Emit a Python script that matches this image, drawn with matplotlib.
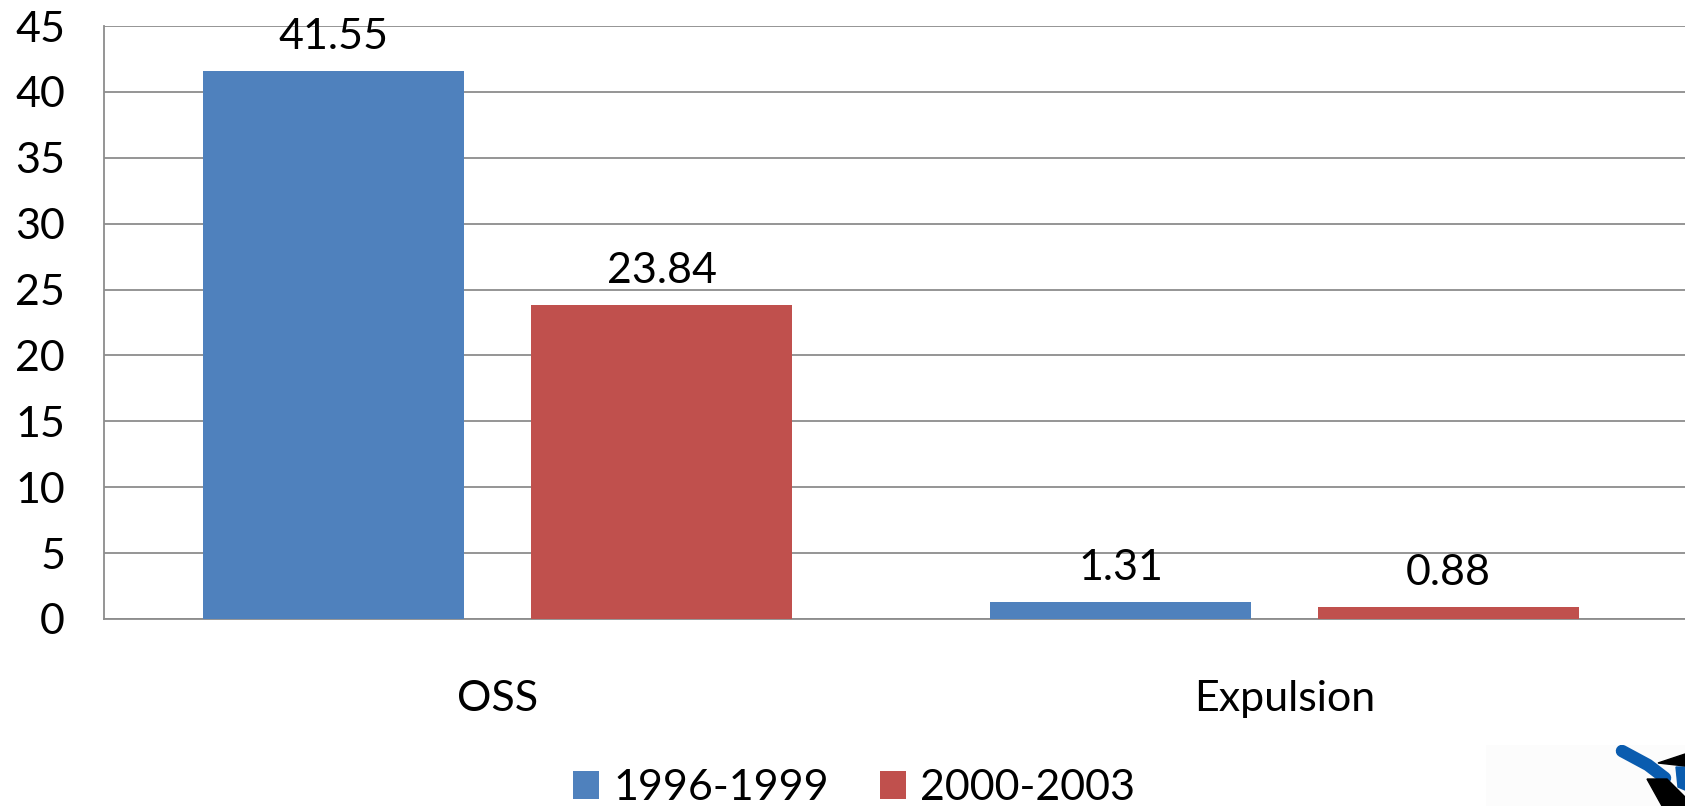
import numpy as np
import matplotlib
matplotlib.use("Agg")
import matplotlib.pyplot as plt
from matplotlib.patches import Polygon, Rectangle

plt.rcParams['font.family'] = ['Lato', 'DejaVu Sans']

# -------------------- data --------------------
categories = ['OSS', 'Expulsion']
series_names = ['1996-1999', '2000-2003']
vals_96_99 = [41.55, 1.31]
vals_00_03 = [23.84, 0.88]
y_ticks = [0, 5, 10, 15, 20, 25, 30, 35, 40, 45]

blue = '#4F81BD'
red = '#C0504D'
grid_col = '#8C8C8C'
fs = 31

# -------------------- figure --------------------
fig = plt.figure(figsize=(16.85, 8.06), dpi=100)
ax = fig.add_axes([104 / 1685, 1 - 619 / 806, 1 - 104 / 1685, (619 - 26) / 806])

x = np.arange(len(categories))
w = 0.332
off = 0.2085
b1 = ax.bar(x - off, vals_96_99, w, color=blue, label=series_names[0], zorder=3)
b2 = ax.bar(x + off, vals_00_03, w, color=red, label=series_names[1], zorder=3)

# value labels above each bar
for bars, vals in ((b1, vals_96_99), (b2, vals_00_03)):
    for r, v in zip(bars, vals):
        ax.annotate(f'{v:.2f}', (r.get_x() + r.get_width() / 2, v),
                    xytext=(0, 16), textcoords='offset points',
                    ha='center', va='baseline', fontsize=fs)

ax.set_ylim(0, 45)
ax.set_xlim(-0.5, -0.5 + (1685 - 104) / 787)
ax.set_yticks(y_ticks)
ax.yaxis.grid(True, color=grid_col, linewidth=1.3, zorder=0)
ax.set_axisbelow(True)
ax.tick_params(axis='y', length=0, pad=28, labelsize=fs)
ax.set_xticks(x)
ax.set_xticklabels(categories)
ax.tick_params(axis='x', length=0, pad=44, labelsize=fs)

for s in ('top', 'right'):
    ax.spines[s].set_visible(False)
ax.spines['left'].set_color(grid_col)
ax.spines['bottom'].set_color(grid_col)
ax.spines['left'].set_linewidth(1.3)
ax.spines['bottom'].set_linewidth(1.3)

fig.legend(loc='center', bbox_to_anchor=(0.507, 0.022), ncol=2, frameon=False,
           fontsize=fs, handlelength=0.6, handleheight=0.6, handletextpad=0.33,
           columnspacing=1.2)

# small logo fragment in the lower right corner
logo = fig.add_axes([1486 / 1685, 0, 1 - 1486 / 1685, (806 - 745) / 806])
logo.set_xlim(1486, 1685)
logo.set_ylim(806, 745)
logo.axis('off')
logo.add_patch(Rectangle((1486, 745), 199, 61, color='#FCFCFC', zorder=0))
logo.plot([1622, 1648, 1665], [751, 765, 778], color='#0A5CAF', linewidth=9,
          solid_capstyle='round', zorder=2)
logo.add_patch(Polygon([[1647, 779], [1667, 779], [1685, 797], [1685, 806], [1662, 806]],
                       closed=True, color='black', zorder=3))
logo.add_patch(Polygon([[1658, 763], [1685, 754], [1685, 766]], closed=True,
                       color='black', zorder=3))
logo.add_patch(Polygon([[1676, 767], [1685, 767], [1685, 790], [1678, 787]],
                       closed=True, color='#0A5CAF', zorder=2))

fig.savefig('out.png', dpi=100)
